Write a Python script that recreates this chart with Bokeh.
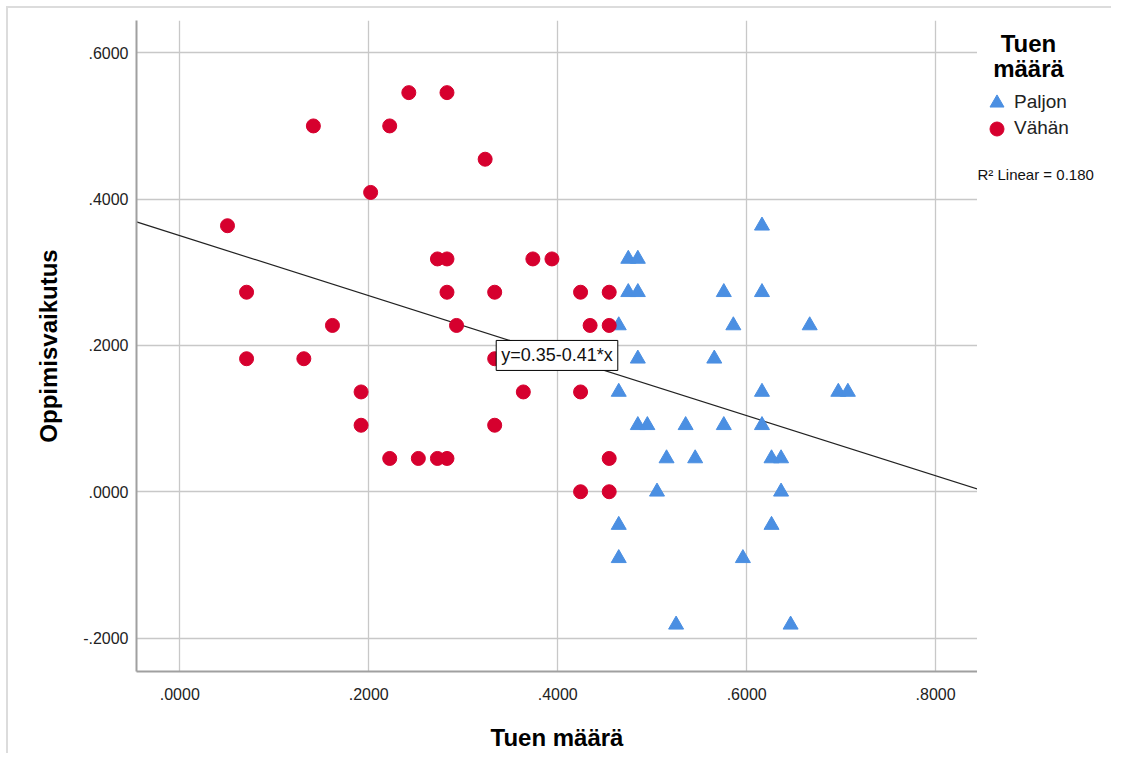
from bokeh.plotting import figure
from bokeh.layouts import row
from bokeh.models import (Range1d, Label, Legend, LegendItem, CustomJSTickFormatter,
                          FixedTicker, ColumnDataSource)
from bokeh.embed import file_html
from bokeh.resources import INLINE

# ---------------- data ----------------
vahan_x = [0.0505, 0.0707, 0.0707, 0.1313, 0.1414, 0.1616, 0.1919, 0.1919, 0.2020,
           0.2222, 0.2222, 0.2424, 0.2525, 0.2727, 0.2828, 0.2828, 0.2828, 0.2929,
           0.2727, 0.2828, 0.3232, 0.3333, 0.3333, 0.3333, 0.3636, 0.3737, 0.3939,
           0.4242, 0.4242, 0.4242, 0.4343, 0.4545, 0.4545, 0.4545, 0.4545]
vahan_y = [0.3636, 0.2727, 0.1818, 0.1818, 0.5000, 0.2273, 0.1364, 0.0909, 0.4091,
           0.5000, 0.0455, 0.5455, 0.0455, 0.3182, 0.3182, 0.5455, 0.2727, 0.2273,
           0.0455, 0.0455, 0.4545, 0.2727, 0.1818, 0.0909, 0.1364, 0.3182, 0.3182,
           0.2727, 0.1364, 0.0000, 0.2273, 0.2727, 0.2273, 0.0455, 0.0000]

paljon_x = [0.6162, 0.4747, 0.4848, 0.4747, 0.4848, 0.5758, 0.6162, 0.4646, 0.5859,
            0.6667, 0.4848, 0.5657, 0.4646, 0.6162, 0.6970, 0.7071, 0.4848, 0.4949,
            0.5354, 0.5758, 0.6162, 0.5152, 0.5455, 0.6263, 0.6364, 0.5051, 0.6364,
            0.4646, 0.6263, 0.4646, 0.5960, 0.5253, 0.6465]
paljon_y = [0.3636, 0.3182, 0.3182, 0.2727, 0.2727, 0.2727, 0.2727, 0.2273, 0.2273,
            0.2273, 0.1818, 0.1818, 0.1364, 0.1364, 0.1364, 0.1364, 0.0909, 0.0909,
            0.0909, 0.0909, 0.0909, 0.0455, 0.0455, 0.0455, 0.0455, 0.0000, 0.0000,
            -0.0455, -0.0455, -0.0909, -0.0909, -0.1818, -0.1818]

x_ticks = [0.0, 0.2, 0.4, 0.6, 0.8]
y_ticks = [-0.2, 0.0, 0.2, 0.4, 0.6]
intercept = 0.35
slope = -0.41
r_squared = 0.180
legend_title = ["Tuen", "määrä"]
group_labels = ["Paljon", "Vähän"]

# ---------------- styling ----------------
FONT = "Liberation Sans"
RED = "#d6002e"
BLUE = "#4b8fe2"
FRAME_LINE = "#dcdcdc"

x_range = Range1d(-0.0458, 0.8443)
y_range = Range1d(-0.2457, 0.6441)

p = figure(width=977, height=753, x_range=x_range, y_range=y_range,
           output_backend="svg", toolbar_location=None,
           min_border_left=136, min_border_right=0,
           min_border_top=20, min_border_bottom=77)
p.outline_line_color = None
p.background_fill_color = "white"
p.border_fill_color = None
p.styles = {"box-shadow": f"inset 6px 6px 0 0 #ffffff, inset 8px 8px 0 0 {FRAME_LINE}",
            "background-color": "#ffffff"}

# grid
p.xgrid.ticker = FixedTicker(ticks=x_ticks)
p.ygrid.ticker = FixedTicker(ticks=y_ticks)
for g in (p.xgrid, p.ygrid):
    g.grid_line_color = "#c8c8c8"
    g.grid_line_width = 1.3

fmt = CustomJSTickFormatter(code="""
    const s = Math.abs(tick).toFixed(4).replace(/^0/, '');
    return (tick < -1e-9 ? '-' : '') + s;
""")

for ax, ticks in ((p.xaxis, x_ticks), (p.yaxis, y_ticks)):
    ax.ticker = FixedTicker(ticks=ticks)
    ax.formatter = fmt
    ax.axis_line_color = "#a0a0a0"
    ax.axis_line_width = 2
    ax.major_tick_line_color = None
    ax.minor_tick_line_color = None
    ax.major_tick_out = 0
    ax.major_tick_in = 0
    ax.minor_tick_out = 0
    ax.minor_tick_in = 0
    ax.major_label_text_font = FONT
    ax.major_label_text_font_size = "16px"
    ax.major_label_text_color = "#222222"
    ax.axis_label_text_font = FONT
    ax.axis_label_text_font_size = "24px"
    ax.axis_label_text_font_style = "bold"
    ax.axis_label_text_color = "#000000"

p.xaxis.axis_label = "Tuen määrä"
p.yaxis.axis_label = "Oppimisvaikutus"
p.xaxis.major_label_standoff = 16
p.yaxis.major_label_standoff = 8
p.xaxis.axis_label_standoff = 21
p.yaxis.axis_label_standoff = 18

# regression line across the frame
x0, x1 = x_range.start, x_range.end
line_src = ColumnDataSource(dict(x=[x0, x1], y=[intercept + slope * x0, intercept + slope * x1]))
p.line("x", "y", source=line_src, line_color="#222222", line_width=1.2)

# points
p.scatter(paljon_x, paljon_y, marker="triangle", size=15,
          fill_color=BLUE, line_color=BLUE)
p.scatter(vahan_x, vahan_y, marker="circle", size=14,
          fill_color=RED, line_color=RED)

# equation label at the line's midpoint
xm = (x0 + x1) / 2
eq = Label(x=xm, y=intercept + slope * xm,
           text=f"y={intercept:.2f}-{abs(slope):.2f}*x",
           text_align="center", text_baseline="middle",
           text_font=FONT, text_font_size="18px", text_color="#111111",
           background_fill_color="white", border_line_color="black",
           border_line_width=1, padding=5)
p.add_layout(eq)

# ---------------- legend panel (separate canvas to the right) ----------------
p2 = figure(width=134, height=753, x_range=Range1d(0, 134), y_range=Range1d(0, 753),
            output_backend="svg", toolbar_location=None,
            x_axis_type=None, y_axis_type=None,
            min_border_left=0, min_border_right=0, min_border_top=0, min_border_bottom=0)
p2.grid.visible = False
p2.outline_line_color = None
p2.background_fill_color = None
p2.border_fill_color = None
p2.styles = {"box-shadow": f"inset 0 6px 0 0 #ffffff, inset 0 8px 0 0 {FRAME_LINE}",
             "background-color": "#ffffff"}

nan = float("nan")
lg_blue = p2.scatter([nan], [nan], marker="triangle", size=15, fill_color=BLUE, line_color=BLUE)
lg_red = p2.scatter([nan], [nan], marker="circle", size=14, fill_color=RED, line_color=RED)

BASE = 671  # screen y of the panel's bottom edge, measured on the page

def one_item_legend(label, renderer, page_center_y):
    return Legend(items=[LegendItem(label=label, renderers=[renderer])],
                  location=(2, BASE - page_center_y - 17.5), orientation="vertical",
                  glyph_width=35, glyph_height=35, spacing=0, padding=0, margin=0,
                  label_standoff=0, label_height=20,
                  label_text_font=FONT, label_text_font_size="19px",
                  label_text_color="#222222",
                  border_line_color=None, background_fill_alpha=0)

p2.add_layout(one_item_legend(group_labels[0], lg_blue, 102))
p2.add_layout(one_item_legend(group_labels[1], lg_red, 128))

for txt, yy in zip(legend_title, (43, 68)):
    p2.add_layout(Label(x=51, y=BASE - yy, x_units="screen", y_units="screen", text=txt,
                        text_align="center", text_baseline="middle",
                        text_font=FONT, text_font_size="24px",
                        text_font_style="bold", text_color="#000000"))

p2.add_layout(Label(x=0, y=BASE - 174, x_units="screen", y_units="screen",
                    text=f"R² Linear = {r_squared:.3f}",
                    text_align="left", text_baseline="middle",
                    text_font=FONT, text_font_size="15px", text_color="#111111"))

open("out.html", "w").write(file_html(row(p, p2), INLINE))
